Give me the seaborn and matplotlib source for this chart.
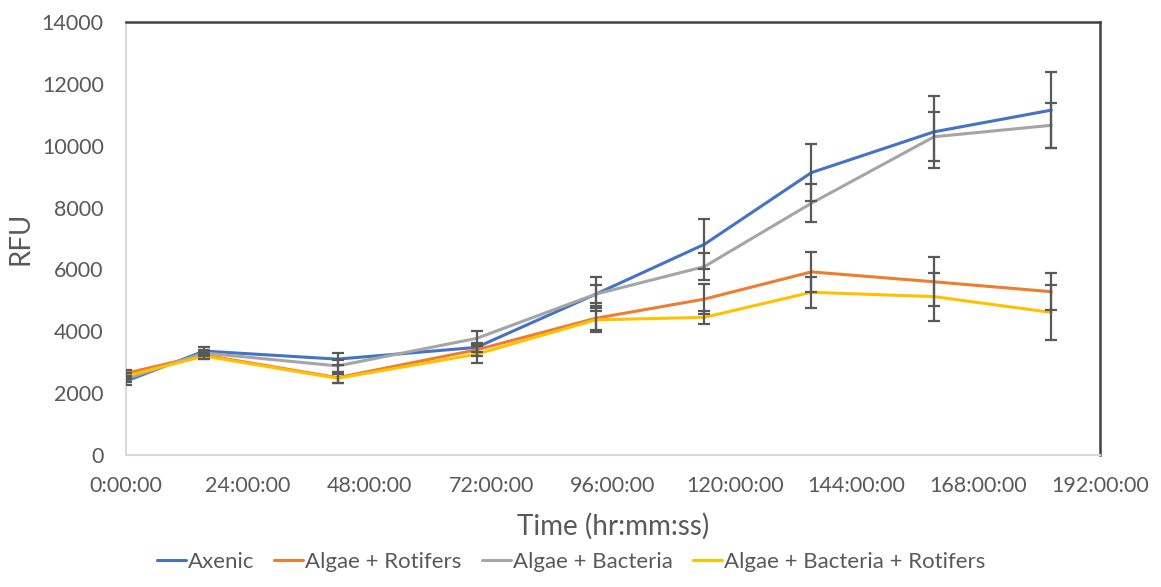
import matplotlib
matplotlib.use("Agg")
import matplotlib.pyplot as plt
import numpy as np
import pandas as pd
import seaborn as sns

# Sampling times (hours) and mean fluorescence per culture type
hours = [0, 15.4, 41.7, 69.1, 92.6, 114.0, 135.1, 159.3, 182.4]
series_names = ["Axenic", "Algae + Rotifers", "Algae + Bacteria",
                "Algae + Bacteria + Rotifers"]

axenic = [2390, 3360, 3100, 3480, 5200, 6810, 9130, 10450, 11150]
algae_rotifers = [2640, 3230, 2500, 3400, 4420, 5040, 5920, 5600, 5280]
algae_bacteria = [2460, 3300, 2880, 3770, 5200, 6090, 8140, 10290, 10660]
algae_bact_rot = [2550, 3200, 2480, 3260, 4370, 4450, 5260, 5120, 4610]

# Standard deviations
axenic_err = [120, 120, 200, 150, 560, 810, 920, 1160, 1240]
algae_rotifers_err = [100, 120, 180, 200, 390, 480, 650, 790, 590]
algae_bacteria_err = [100, 100, 200, 230, 300, 430, 610, 790, 730]
algae_bact_rot_err = [100, 100, 150, 280, 390, 220, 510, 780, 900]

x_ticks = list(range(0, 193, 24))
x_tick_labels = [f"{h}:00:00" for h in x_ticks]

means = [axenic, algae_rotifers, algae_bacteria, algae_bact_rot]
errors = [axenic_err, algae_rotifers_err, algae_bacteria_err, algae_bact_rot_err]
colors = ["#4472C4", "#ED7D31", "#A5A5A5", "#FFC000"]

df = pd.DataFrame({
    "Time": np.tile(hours, len(series_names)),
    "RFU": np.concatenate(means),
    "Series": np.repeat(series_names, len(hours)),
})

sns.set_theme(style="white")
plt.rcParams["font.family"] = ["Lato", "DejaVu Sans"]

fig = plt.figure(figsize=(11.61, 5.87), dpi=100)
ax = fig.add_axes([126 / 1161, 1 - 455 / 587, (1100 - 126) / 1161, (455 - 22) / 587])

sns.lineplot(data=df, x="Time", y="RFU", hue="Series", hue_order=series_names,
             palette=colors, linewidth=2.2, ax=ax, legend=True)

for m, e in zip(means, errors):
    ax.errorbar(hours, m, yerr=e, fmt="none", ecolor="#595959",
                elinewidth=1.6, capsize=4.5, capthick=1.6, zorder=5)

ax.set_xlim(0, 192)
ax.set_ylim(0, 14000)
ax.set_xticks(x_ticks)
ax.set_xticklabels(x_tick_labels)
ax.set_yticks(range(0, 14001, 2000))

text_color = "#595959"
ax.tick_params(axis="both", length=0, labelsize=15.5, labelcolor=text_color)
ax.tick_params(axis="y", pad=16)
ax.tick_params(axis="x", pad=15)

ax.set_xlabel("Time (hr:mm:ss)", fontsize=20, color=text_color, labelpad=12)
ax.set_ylabel("RFU", fontsize=20, color=text_color, labelpad=6)

for side in ["left", "bottom"]:
    ax.spines[side].set_color("#D9D9D9")
    ax.spines[side].set_linewidth(1.5)
for side in ["top", "right"]:
    ax.spines[side].set_color("#404040")
    ax.spines[side].set_linewidth(1.8)

handles, labels = ax.get_legend_handles_labels()
leg = ax.legend(handles, labels, loc="center", bbox_to_anchor=(571 / 1161, 1 - 562 / 587),
                bbox_transform=fig.transFigure, ncol=4, frameon=False,
                fontsize=16, handlelength=1.3, handletextpad=0.1,
                columnspacing=0.9, labelcolor=text_color)

fig.savefig("out.png", dpi=100)
